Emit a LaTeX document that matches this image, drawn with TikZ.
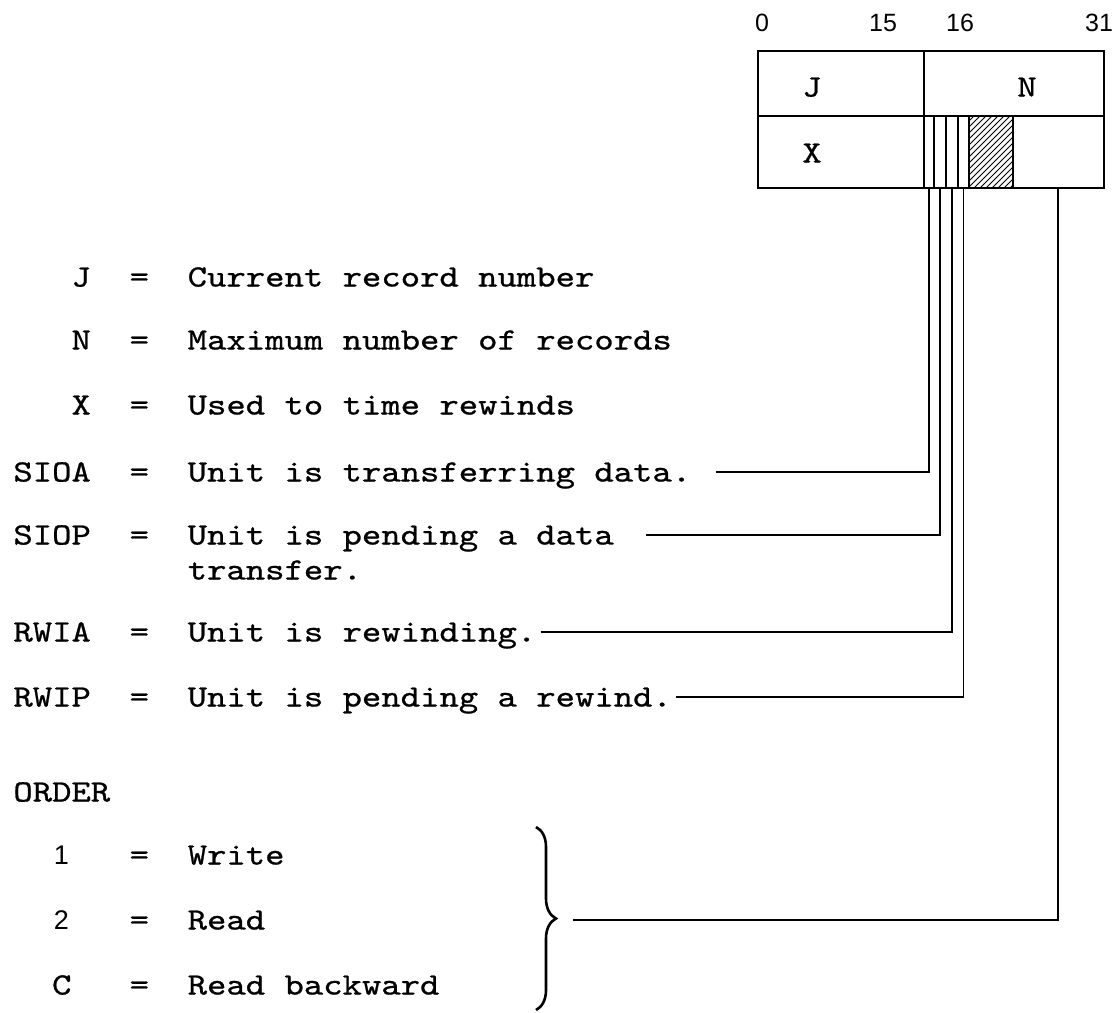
\documentclass[tikz,border=0pt]{standalone}
\usepackage{fontspec}
\newfontfamily\typer[FakeStretch=1.19,FakeBold=0.8]{lmmono10-regular.otf}
\newfontfamily\digits{Liberation Sans}
\usetikzlibrary{patterns,decorations.pathreplacing}

\begin{document}
\begin{tikzpicture}[
  x=0.5pt, y=-0.5pt,
  font={\fontsize{15.5pt}{18pt}\typer},
  txt/.style={anchor=west, inner sep=0pt, text height=9.5pt, text depth=0pt},
  letter/.style={inner sep=0pt, text height=9.5pt, text depth=0pt},
  num/.style={inner sep=0pt, font={\fontsize{12.5pt}{15pt}\digits}, text height=8.7pt, text depth=0pt},
  bignum/.style={num, font={\fontsize{13.5pt}{16pt}\digits}, text height=9.5pt},
  frame/.style={line width=0.9pt},
  lead/.style={line width=0.8pt},
  ordline/.style={line width=1.3pt},
  obrace/.style={decorate, decoration={brace, amplitude=10pt}, line width=1.3pt}
]
\useasboundingbox (0,0) rectangle (1113,1012);

\node[num] (b0) at (762,23) {0};
\node[num] (b15) at (883,23) {15};
\node[num] (b16) at (960,23) {16};
\node[num] (b31) at (1099,23) {31};

\draw[frame] (758,51) rectangle (1104,188);
\draw[frame] (758,116) -- (1104,116);
\draw[frame] (924,51) -- (924,188);
\fill[pattern=north east lines] (969,116) rectangle (1013,188);
\foreach \x in {934,946,958,969,1013}
  \draw[frame] (\x,116) -- (\x,188);
\node[letter] (fj) at (812,87) {J};
\node[letter] (fn) at (1027,87) {N};
\node[letter] (fx) at (812,153) {X};

\coordinate (bsioa) at (929,188);
\coordinate (bsiop) at (940,188);
\coordinate (brwia) at (952,188);
\coordinate (brwip) at (963.5,188);
\coordinate (border) at (1058,188);

\foreach \key/\col/\y/\txt in {J/3/277/Current record number,
    N/3/340/Maximum number of records, X/3/405/Used to time rewinds,
    SIOA/0/472/Unit is transferring data., SIOP/0/535/Unit is pending a data,
    RWIA/0/632/Unit is rewinding., RWIP/0/697/Unit is pending a rewind.} {
  \node[txt] (k\key) at (13+\col*19.37,\y) {\key};
  \node[txt] (e\key) at (129.2,\y) {=};
  \node[txt] (t\key) at (187.3,\y) {\txt};
}
\node[txt] (tSIOP2) at (187.3,570) {transfer.};

\draw[lead] ([xshift=12pt]tSIOA.east) -| (bsioa);
\draw[lead] ([xshift=16pt]tSIOP.east) -| (bsiop);
\draw[lead] ([xshift=2pt]tRWIA.east) -| (brwia);
\draw[lead] ([xshift=2pt]tRWIP.east) -| (brwip);

\node[txt] (order) at (13,792) {ORDER};
\node[bignum] (k1) at (61.4,855) {1};
\node[txt] (e1) at (129.2,855) {=};
\node[txt] (t1) at (187.3,855) {Write};
\node[bignum] (k2) at (61.4,920) {2};
\node[txt] (e2) at (129.2,920) {=};
\node[txt] (t2) at (187.3,920) {Read};
\node[txt] (kC) at (51.7,985) {C};
\node[txt] (eC) at (129.2,985) {=};
\node[txt] (tC) at (187.3,985) {Read backward};

\draw[obrace] (536,827) -- (536,1010);
\coordinate (btip) at (573,920);
\draw[ordline] (btip) -| (border);
\end{tikzpicture}
\end{document}
